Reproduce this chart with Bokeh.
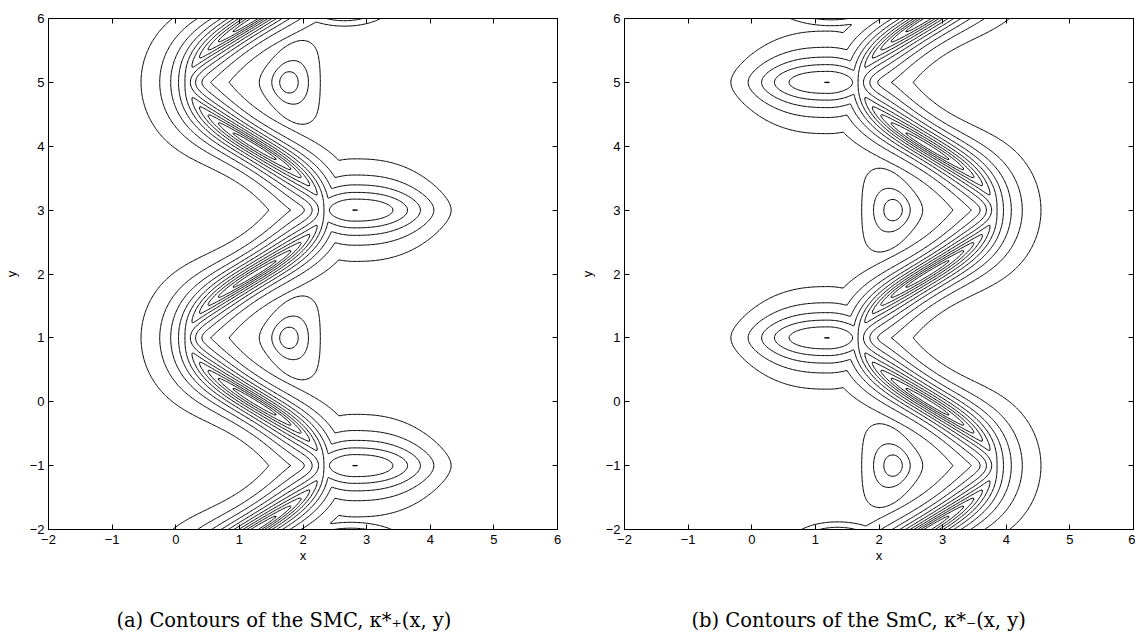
import numpy as np
from bokeh.plotting import figure
from bokeh.layouts import row
from bokeh.models import LinearAxis, FixedTicker
from bokeh.embed import file_html
from bokeh.resources import INLINE

# ---------------- chart data ----------------
TICKS = [-2, -1, 0, 1, 2, 3, 4, 5, 6]
TICK_LABELS = ["\u22122", "\u22121", "0", "1", "2", "3", "4", "5", "6"]
LEVELS = [1, 2, 3, 4, 5, 6, 7, 8, 9, 10]
CAPTIONS = ["(a) Contours of the SMC, \u03ba*\u208a(x, y)",
            "(b) Contours of the SmC, \u03ba*\u208b(x, y)"]
CAPTION_X = [1.7, 1.68]   # caption centre, in x-axis units

# zig-zag ridge of panel (a): centre line x = MID - AMP * sin(pi*y/2)
RIDGE_MID = 1.24
RIDGE_AMP = 1.05
RIDGE_PEAK_VERTEX = 5.3
RIDGE_PEAK_DIAG = 10.6
RIDGE_DECAY_VERTEX = 0.385
RIDGE_DECAY_DIAG = 0.23
RIDGE_SIDE = [1.1, 0.88]      # decay factor, left / right flank

# lobes on the outer side of the right-hand bends
LOBE_X = 2.8
LOBE_Y = [-1.0, 3.0]
LOBE_PEAK = 6.003
LOBE_LEFT = 0.9
LOBE_RIGHT = 1.21
LOBE_DECAY_Y = 0.35

# isolated humps inside the left-hand bends
BUMP_X = 1.76
BUMP_Y = [1.0, 5.0]
BUMP_PEAK = 3.8
BUMP_DECAY = 0.355
BUMP_CORE = 0.119
BUMP_EDGE = 2.32              # flat right side of the outer ring

# features cut by the top / bottom edge
EDGE_X = [2.65, 2.75]
EDGE_Y = [6.25, -2.3]
EDGE_PEAK = [5.5, 5.8]
EDGE_SX = [0.42, 0.5]
EDGE_SY = [0.2, 0.22]

T_CURVE = np.arange(-4.0, 8.0001, 0.005)
X_CURVE = RIDGE_MID - RIDGE_AMP * np.sin(np.pi * T_CURVE / 2)


def ridge(X, Y):
    F = np.empty_like(X)
    eps = 0.03
    for j in range(X.shape[0]):
        xr = X[j]
        yr = Y[j]
        d2 = (xr[:, None] - X_CURVE[None, :]) ** 2 + (yr[:, None] - T_CURVE[None, :]) ** 2
        k = np.argmin(d2, axis=1)
        dist = np.sqrt(d2[np.arange(xr.size), k])
        t = T_CURVE[k]
        w = np.cos(np.pi * t / 2) ** 2
        amp = RIDGE_PEAK_VERTEX + (RIDGE_PEAK_DIAG - RIDGE_PEAK_VERTEX) * w
        dec = RIDGE_DECAY_VERTEX + (RIDGE_DECAY_DIAG - RIDGE_DECAY_VERTEX) * w
        xc_row = RIDGE_MID - RIDGE_AMP * np.sin(np.pi * yr / 2)
        side = np.where(xr < xc_row, RIDGE_SIDE[0], RIDGE_SIDE[1])
        F[j] = amp * np.exp(-(np.sqrt(dist ** 2 + eps ** 2) - eps) / (dec * side))
    return F


def field(X, Y):
    F = ridge(X, Y)
    for yl in LOBE_Y:
        dx = X - LOBE_X
        fx = np.where(dx < 0, np.exp(-(dx / LOBE_LEFT) ** 2),
                      np.exp(-(np.abs(dx) / LOBE_RIGHT) ** 2.5))
        dy = Y - yl
        fy = np.exp(-(np.sqrt(dy ** 2 + 0.04) - 0.2) / LOBE_DECAY_Y)
        F = np.maximum(F, LOBE_PEAK * fx * fy)
    for yb in BUMP_Y:
        dx = X - BUMP_X
        dy = Y - yb
        dxx = np.where(dx < 0, dx * 1.3, dx)
        sc = np.clip(1 + 1.0 * dx, 0.4, 2.5)
        r2 = dxx ** 2 + (dy / sc) ** 2
        hump = BUMP_PEAK * np.exp(-(np.sqrt(r2 + BUMP_CORE ** 2) - BUMP_CORE) / BUMP_DECAY)
        hump = hump / (1 + np.exp((X - BUMP_EDGE) / 0.03))
        F = np.maximum(F, hump)
    for ex, ey, ep, sx, sy in zip(EDGE_X, EDGE_Y, EDGE_PEAK, EDGE_SX, EDGE_SY):
        F = np.maximum(F, ep * np.exp(-((X - ex) ** 2 / (2 * sx ** 2) + (Y - ey) ** 2 / (2 * sy ** 2))))
    return F


xs = np.linspace(-2, 6, 401)
ys = np.linspace(-2, 6, 401)
X, Y = np.meshgrid(xs, ys)
Z_A = field(X, Y)
Z_B = field(4 - X, 4 - Y)   # panel (b): panel (a) turned half a turn about (2, 2)


def style_axis(ax, labels=True):
    ax.ticker = FixedTicker(ticks=TICKS)
    ax.major_tick_in = 5
    ax.major_tick_out = 0
    ax.minor_tick_in = 0
    ax.minor_tick_out = 0
    ax.axis_line_color = "black"
    ax.major_tick_line_color = "black"
    ax.axis_line_width = 1
    if labels:
        ax.major_label_overrides = {t: l for t, l in zip(TICKS, TICK_LABELS)}
        ax.major_label_text_font = "Liberation Sans"
        ax.major_label_text_font_size = "13px"
        ax.major_label_text_color = "black"
    else:
        ax.major_label_overrides = {t: "" for t in TICKS}
        ax.major_label_text_font_size = "0px"
        ax.major_label_standoff = 0


def make_panel(Z, caption, cap_x, width, border_right):
    p = figure(width=width, height=634, x_range=(-2, 6), y_range=(-2, 6),
               output_backend="svg", toolbar_location=None,
               min_border_left=47, min_border_right=border_right,
               min_border_top=18, min_border_bottom=105)
    p.grid.visible = False
    p.outline_line_color = "black"
    p.outline_line_width = 1
    p.outline_line_alpha = 1.0
    p.background_fill_color = "white"
    p.border_fill_color = "white"

    p.contour(x=xs, y=ys, z=Z, levels=LEVELS, line_color="black", line_width=1)

    style_axis(p.xaxis[0])
    style_axis(p.yaxis[0])
    p.xaxis[0].major_label_standoff = 5
    p.yaxis[0].major_label_standoff = 4
    p.xaxis.axis_label = "x"
    p.yaxis.axis_label = "y"
    for ax in (p.xaxis[0], p.yaxis[0]):
        ax.axis_label_text_font = "Liberation Sans"
        ax.axis_label_text_font_size = "13px"
        ax.axis_label_text_font_style = "normal"
        ax.axis_label_text_color = "black"
    p.xaxis[0].axis_label_standoff = 1
    p.yaxis[0].axis_label_standoff = 8

    top = LinearAxis()
    style_axis(top, labels=False)
    p.add_layout(top, "above")
    right = LinearAxis()
    style_axis(right, labels=False)
    p.add_layout(right, "right")

    # sub-figure caption, carried by a bare axis below the x axis
    cap = LinearAxis(ticker=FixedTicker(ticks=[cap_x]),
                     major_label_overrides={cap_x: caption},
                     major_label_text_font="DejaVu Serif",
                     major_label_text_font_size="19.5px",
                     major_label_text_color="black",
                     major_label_standoff=43,
                     major_tick_in=0, major_tick_out=0,
                     minor_tick_in=0, minor_tick_out=0,
                     major_tick_line_color=None, minor_tick_line_color=None,
                     axis_line_color=None)
    p.add_layout(cap, "below")
    return p


p1 = make_panel(Z_A, CAPTIONS[0], CAPTION_X[0], 576, 19)
p2 = make_panel(Z_B, CAPTIONS[1], CAPTION_X[1], 559, 2)
layout = row(p1, p2)

open("out.html", "w").write(file_html(layout, INLINE))
